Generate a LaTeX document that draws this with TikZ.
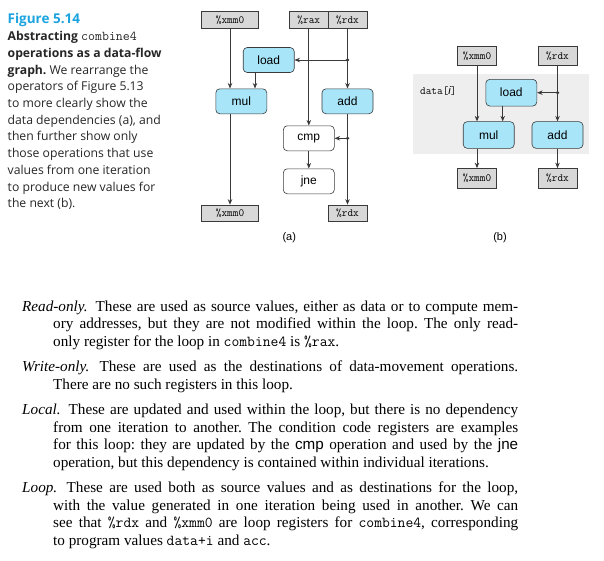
\documentclass[tikz,border=0pt]{standalone}
\usepackage{fontspec}
\setmainfont{Liberation Serif}
\setsansfont{Liberation Sans}
\newfontfamily\capfont{Open Sans}
\usepackage{xcolor}
\usepackage{tikz}
\usetikzlibrary{arrows.meta}

\definecolor{figcyan}{RGB}{27,163,224}
\definecolor{opblue}{RGB}{168,229,249}
\definecolor{reggray}{RGB}{216,216,216}
\definecolor{panelgray}{RGB}{238,238,238}
\definecolor{linegray}{RGB}{58,58,58}

\newcommand\code[1]{{\normalfont\ttfamily #1}}
\newcommand\opname[1]{{\sffamily #1}}
\newcommand\fullline[1]{\hbox to 496pt{#1}}
\newcommand\hangline[1]{\hbox to 496pt{\hspace*{31pt}#1}}
\newcommand\lastline[1]{\hbox{\hspace*{31pt}#1}}

\begin{document}
\frenchspacing
\begin{tikzpicture}[
        x=1pt, y=-1pt,
        regbox/.style={
            draw=linegray,
            fill=reggray,
            line width=0.6pt,
            inner sep=0pt,
            minimum width=38.7pt,
            minimum height=16.7pt,
            font=\fontsize{11}{11}\selectfont\ttfamily
        },
        opbox/.style={
            draw=linegray,
            fill=opblue,
            line width=0.6pt,
            rounded corners=4pt,
            inner sep=0pt,
            minimum width=51pt,
            minimum height=25pt,
            font=\sffamily\fontsize{12}{12}\selectfont
        },
        flow/.style={
            draw=linegray,
            line width=0.8pt,
            -{Stealth[length=5.5pt,width=4.5pt]}
        },
        bodytext/.style={
            anchor=base west,
            inner sep=0pt,
            font=\fontsize{15.2}{17.5}\selectfont
        }
    ]
    \useasboundingbox (0,0) rectangle (604,560);

    % caption
    \node[anchor=base west, inner sep=0pt, text=figcyan,
        font=\capfont\bfseries\fontsize{13.5}{16}\selectfont] (figno) at (7.5,23.3) {Figure 5.14};
    \node[anchor=base west, inner sep=0pt, text=black!85,
        font=\capfont\fontsize{12.2}{16.7}\selectfont] (capt) at (7.5,40.7) {%
        \parbox[t]{185pt}{\raggedright
            \textbf{Abstracting} {\fontsize{13.5}{16.7}\selectfont\code{combine4}}\\
            \textbf{operations as a data-flow}\\
            \textbf{graph.} We rearrange the\\
            operators of Figure 5.13\\
            to more clearly show the\\
            data dependencies (a), and\\
            then further show only\\
            those operations that use\\
            values from one iteration\\
            to produce new values for\\
            the next (b).}};

    % (a)
    \node[regbox, minimum width=56.6pt] (xmmA) at (230,20) {\%xmm0};
    \node[regbox] (raxA) at (308.8,20) {\%rax};
    \node[regbox] (rdxA) at (347.5,20) {\%rdx};
    \node[opbox] (loadA) at (268.7,60) {load};
    \node[opbox] (mulA) at (241.3,101.3) {mul};
    \node[opbox] (addA) at (347.5,101.3) {add};
    \node[opbox, fill=white] (cmpA) at (308.8,138.3) {cmp};
    \node[opbox, fill=white] (jneA) at (308.8,181.3) {jne};
    \node[regbox, minimum width=56.6pt] (xmmA2) at (230,213.3) {\%xmm0};
    \node[regbox] (rdxA2) at (347.5,213.3) {\%rdx};
    \node[font=\sffamily\fontsize{11}{11}\selectfont] (capA) at (289.3,238) {(a)};

    \coordinate (forkA1) at (rdxA |- loadA);
    \coordinate (forkA2) at (rdxA |- cmpA);
    \draw[flow] (xmmA) -- (xmmA |- mulA.north);
    \draw[flow] ([xshift=-13.7pt]loadA.south) -- ([xshift=-13.7pt]loadA.south |- mulA.north);
    \draw[flow] (raxA) -- (cmpA);
    \draw[flow] (rdxA) -- (addA);
    \draw[flow] (forkA1) -- (loadA);
    \fill[linegray] (forkA1) circle (1.8pt);
    \draw[flow] (addA) -- (rdxA2);
    \draw[flow] (forkA2) -- (cmpA);
    \fill[linegray] (forkA2) circle (1.8pt);
    \draw[flow] (cmpA) -- (jneA);
    \draw[flow] (xmmA2 |- mulA.south) -- (xmmA2);

    % (b)
    \fill[panelgray] (412.7,74.3) rectangle (589.3,154);
    \node[font=\fontsize{11}{11}\selectfont] (dataB) at (438.3,91) {\code{data[}{\sffamily\itshape i}\code{]}};
    \node[regbox, minimum height=19.7pt] (xmmB) at (477,55.8) {\%xmm0};
    \node[regbox, minimum height=19.7pt] (rdxB) at (557.5,55.8) {\%rdx};
    \node[opbox, minimum height=26.7pt] (loadB) at (511.3,92.7) {load};
    \node[opbox, minimum height=26.7pt] (mulB) at (488.7,135) {mul};
    \node[opbox, minimum height=26.7pt] (addB) at (557.5,135) {add};
    \node[regbox, minimum height=19.7pt] (xmmB2) at (477,178.3) {\%xmm0};
    \node[regbox, minimum height=19.7pt] (rdxB2) at (557.5,178.3) {\%rdx};
    \node[font=\sffamily\fontsize{11}{11}\selectfont] (capB) at (500,238) {(b)};

    \coordinate (forkB) at (rdxB |- loadB);
    \draw[flow] (xmmB) -- (xmmB |- mulB.north);
    \draw[flow] ([xshift=-8.6pt]loadB.south) -- ([xshift=-8.6pt]loadB.south |- mulB.north);
    \draw[flow] (rdxB) -- (addB);
    \draw[flow] (forkB) -- (loadB);
    \fill[linegray] (forkB) circle (1.8pt);
    \draw[flow] (xmmB2 |- mulB.south) -- (xmmB2);
    \draw[flow] (addB) -- (rdxB2);

    % register classes
    \node[bodytext] (readonly) at (22,311) {\parbox[t]{496pt}{%
        \fullline{\textit{Read-only.}\hspace{3pt} These are used as source values, either as data or to compute mem-}
        \hangline{ory addresses, but they are not modified within the loop. The only read-}
        \lastline{only register for the loop in \code{combine4} is \code{\%rax}.}}};
    \node[bodytext] (writeonly) at (22,371.5) {\parbox[t]{496pt}{%
        \fullline{\textit{Write-only.}\hspace{3pt} These are used as the destinations of data-movement operations.}
        \lastline{There are no such registers in this loop.}}};
    \node[bodytext] (local) at (22,414.5) {\parbox[t]{496pt}{%
        \fullline{\textit{Local.}\hspace{3pt} These are updated and used within the loop, but there is no dependency}
        \hangline{from one iteration to another. The condition code registers are examples}
        \hangline{for this loop: they are updated by the \opname{cmp} operation and used by the \opname{jne}}
        \lastline{operation, but this dependency is contained within individual iterations.}}};
    \node[bodytext] (loop) at (22,492.5) {\parbox[t]{496pt}{%
        \fullline{\textit{Loop.}\hspace{3pt} These are used both as source values and as destinations for the loop,}
        \hangline{with the value generated in one iteration being used in another. We can}
        \hangline{see that \code{\%rdx} and \code{\%xmm0} are loop registers for \code{combine4}, corresponding}
        \lastline{to program values \code{data+i} and \code{acc}.}}};
\end{tikzpicture}
\end{document}
